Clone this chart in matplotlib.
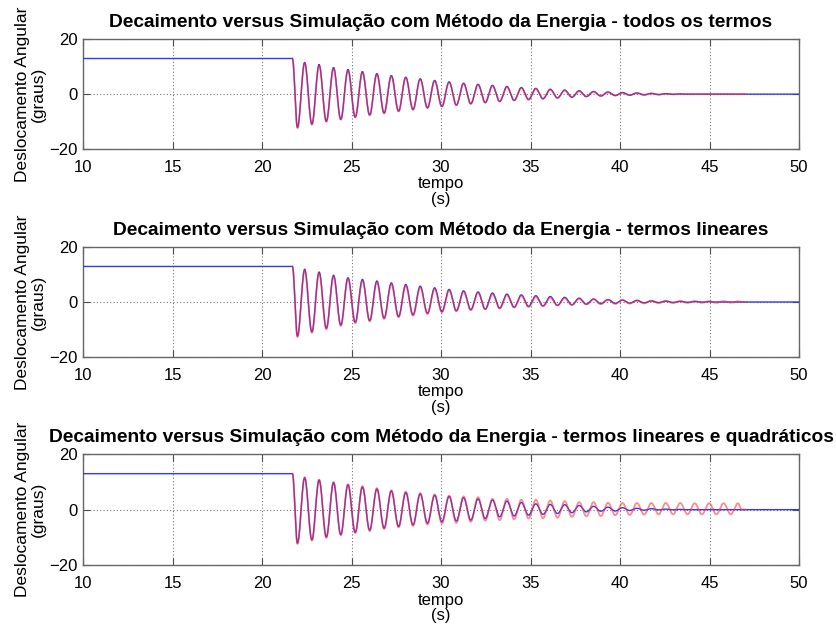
import numpy as np
import matplotlib
matplotlib.use("Agg")
import matplotlib.pyplot as plt

plt.rcParams["font.family"] = ["Liberation Sans", "DejaVu Sans"]

# ---------------------------------------------------------------------------
# data (degrees); extremes of each oscillation cycle
# ---------------------------------------------------------------------------
titles = [
    "Decaimento versus Simulação com Método da Energia - todos os termos",
    "Decaimento versus Simulação com Método da Energia - termos lineares",
    "Decaimento versus Simulação com Método da Energia - termos lineares e quadráticos",
]

t_release = 21.70          # s, start of the free decay
level0 = 13.0              # initial heel angle
t_first_trough = 21.98     # s
period = 0.807             # s
t_end_blue = 50.0
t_end_red = 47.0

# panel 1 -- todos os termos
p1_blue_peaks = [11.6, 10.7, 9.7, 8.9, 8.2, 7.5, 6.8, 6.2, 5.6, 5.0, 4.5, 4.0, 3.6, 3.2,
                 2.8, 2.4, 2.1, 1.8, 1.5, 1.25, 1.0, 0.8, 0.6, 0.45, 0.3, 0.2, 0.1]
p1_blue_troughs = [-12.1, -10.9, -9.9, -9.2, -8.4, -7.6, -6.9, -6.2, -5.6, -5.0, -4.5, -4.0,
                   -3.5, -3.1, -2.7, -2.3, -2.0, -1.7, -1.4, -1.15, -0.9, -0.7, -0.55, -0.4,
                   -0.3, -0.2, -0.1]
p1_red_peaks = [11.3, 10.4, 9.5, 8.7, 8.0, 7.3, 6.6, 6.0, 5.4, 4.8, 4.3, 3.8, 3.4, 3.0,
                2.6, 2.2, 1.9, 1.6, 1.3, 1.0, 0.8, 0.6, 0.4, 0.3, 0.2, 0.1, 0.05]
p1_red_troughs = [-12.4, -11.2, -10.1, -9.3, -8.5, -7.7, -7.0, -6.3, -5.7, -5.1, -4.5, -4.0,
                  -3.5, -3.0, -2.6, -2.2, -1.9, -1.6, -1.3, -1.0, -0.8, -0.6, -0.4, -0.3,
                  -0.2, -0.1, -0.05]

# panel 2 -- termos lineares
p2_blue_peaks = [12.0, 11.0, 9.8, 8.9, 8.3, 7.7, 7.0, 6.4, 5.8, 5.2, 4.6, 4.1, 3.7, 3.3,
                 2.9, 2.6, 2.3, 2.0, 1.7, 1.4, 1.1, 0.9, 0.7, 0.55, 0.4, 0.3, 0.2, 0.15, 0.1]
p2_blue_troughs = [-12.5, -10.9, -9.6, -8.4, -7.4, -6.8, -5.9, -5.3, -4.7, -4.1, -3.5, -3.2,
                   -2.8, -2.6, -2.2, -1.9, -1.6, -1.4, -1.2, -1.0, -0.8, -0.6, -0.5, -0.4,
                   -0.3, -0.2, -0.15, -0.1, -0.05]
p2_red_peaks = [11.5, 10.5, 9.4, 8.5, 7.8, 7.2, 6.5, 5.9, 5.3, 4.7, 4.2, 3.7, 3.3, 2.9, 2.5,
                2.2, 1.9, 1.6, 1.4, 1.2, 1.0, 0.8, 0.7, 0.6, 0.5, 0.45, 0.4, 0.35, 0.3, 0.3,
                0.25]
p2_red_troughs = [-12.8, -11.3, -10.0, -8.8, -7.8, -7.1, -6.2, -5.6, -5.0, -4.4, -3.8, -3.4,
                  -3.0, -2.7, -2.4, -2.0, -1.8, -1.6, -1.3, -1.1, -0.9, -0.8, -0.7, -0.6,
                  -0.5, -0.45, -0.4, -0.35, -0.3, -0.3, -0.25]

# panel 3 -- termos lineares e quadraticos
p3_blue_peaks = [11.6, 10.7, 9.8, 9.0, 8.2, 7.5, 6.8, 6.2, 5.7, 5.2, 4.8, 4.3, 3.9, 3.5,
                 3.1, 2.6, 2.1, 1.9, 1.8, 1.5, 1.2, 0.9, 0.7, 0.5, 0.35, 0.2, 0.1]
p3_blue_troughs = [-12.1, -10.9, -9.9, -9.0, -8.2, -7.4, -6.7, -6.1, -5.5, -4.9, -4.4, -4.1,
                   -3.8, -3.2, -2.6, -2.3, -2.0, -1.7, -1.4, -1.1, -0.8, -0.6, -0.5, -0.3,
                   -0.2, -0.1, -0.05]
p3_red_peaks = [11.7, 10.9, 10.0, 9.2, 8.5, 7.8, 7.0, 6.5, 6.0, 5.5, 5.1, 4.8, 4.5, 3.9,
                3.9, 3.6, 3.6, 3.3, 3.1, 2.7, 2.7, 2.5, 2.4, 2.4, 2.4, 2.4, 2.4, 2.3, 2.3,
                2.3, 2.3]
p3_red_troughs = [-12.4, -11.2, -10.2, -9.3, -8.5, -7.8, -7.0, -6.4, -5.9, -5.4, -5.0, -4.8,
                  -4.4, -4.0, -3.8, -3.5, -3.2, -3.1, -2.9, -2.6, -2.4, -2.3, -2.0, -1.9,
                  -1.8, -1.7, -1.7, -1.7, -1.7, -1.7, -1.7]

blue_series = [(p1_blue_peaks, p1_blue_troughs), (p2_blue_peaks, p2_blue_troughs),
               (p3_blue_peaks, p3_blue_troughs)]
red_series = [(p1_red_peaks, p1_red_troughs), (p2_red_peaks, p2_red_troughs),
              (p3_red_peaks, p3_red_troughs)]


def trace(peaks, troughs, t_start, t_end):
    """join the read extremes with half-cosine arcs"""
    te = [t_start, t_release]
    ye = [level0, level0]
    for k, (lo, hi) in enumerate(zip(troughs, peaks)):
        te += [t_first_trough + k * period, t_first_trough + (k + 0.5) * period]
        ye += [lo, hi]
    te.append(te[-1] + period / 4)
    ye.append(0.0)
    tt, yy = [], []
    for i in range(len(te) - 1):
        s = np.linspace(0, 1, 16)
        if ye[i] == ye[i + 1]:
            s = np.array([0.0, 1.0])
        tt.append(te[i] + (te[i + 1] - te[i]) * s)
        yy.append(ye[i] + (ye[i + 1] - ye[i]) * (1 - np.cos(np.pi * s)) / 2)
    tt.append([t_end])
    yy.append([0.0])
    return np.concatenate(tt), np.concatenate(yy)


# ---------------------------------------------------------------------------
# plot
# ---------------------------------------------------------------------------
fig = plt.figure(figsize=(8.36, 6.33), dpi=100)
W, H = 836, 633
boxes = [(39.3, 149.0), (247.3, 356.7), (454.3, 565.0)]   # top, bottom in px

for i, (top, bot) in enumerate(boxes):
    ax = fig.add_axes([83 / W, 1 - bot / H, 716 / W, (bot - top) / H])
    tb, yb = trace(*blue_series[i], 10.0, t_end_blue)
    tr, yr = trace(*red_series[i], t_release, t_end_red)
    ax.plot(tb, yb, color="#3535ff", lw=1.0, zorder=3)
    ax.plot(tr, yr, color="#ff2a2a", lw=1.3, alpha=0.55, zorder=4)

    ax.set_xlim(10, 50)
    ax.set_ylim(-20, 20)
    ax.set_xticks(range(10, 51, 5))
    ax.set_yticks([-20, 0, 20])
    ax.grid(True, linestyle=(0, (1, 2)), color="0.45", lw=0.8)
    ax.tick_params(direction="in", top=True, right=True, length=5, width=0.8,
                   labelsize=12, color="0.3")
    ax.tick_params(axis="x", pad=8)
    ax.tick_params(axis="y", pad=4)
    for sp in ax.spines.values():
        sp.set_color("0.4")
        sp.set_linewidth(1.0)
    ax.set_title(titles[i], fontsize=13.8, fontweight="bold", pad=8.5)
    ax.set_xlabel("tempo\n(s)", fontsize=12, labelpad=1, linespacing=1.05)
    ax.set_ylabel("Deslocamento Angular\n(graus)", fontsize=12.5, linespacing=1.05)
    ax.yaxis.set_label_coords(-0.052, 0.5)

fig.savefig("out.png", dpi=100, facecolor="white")
